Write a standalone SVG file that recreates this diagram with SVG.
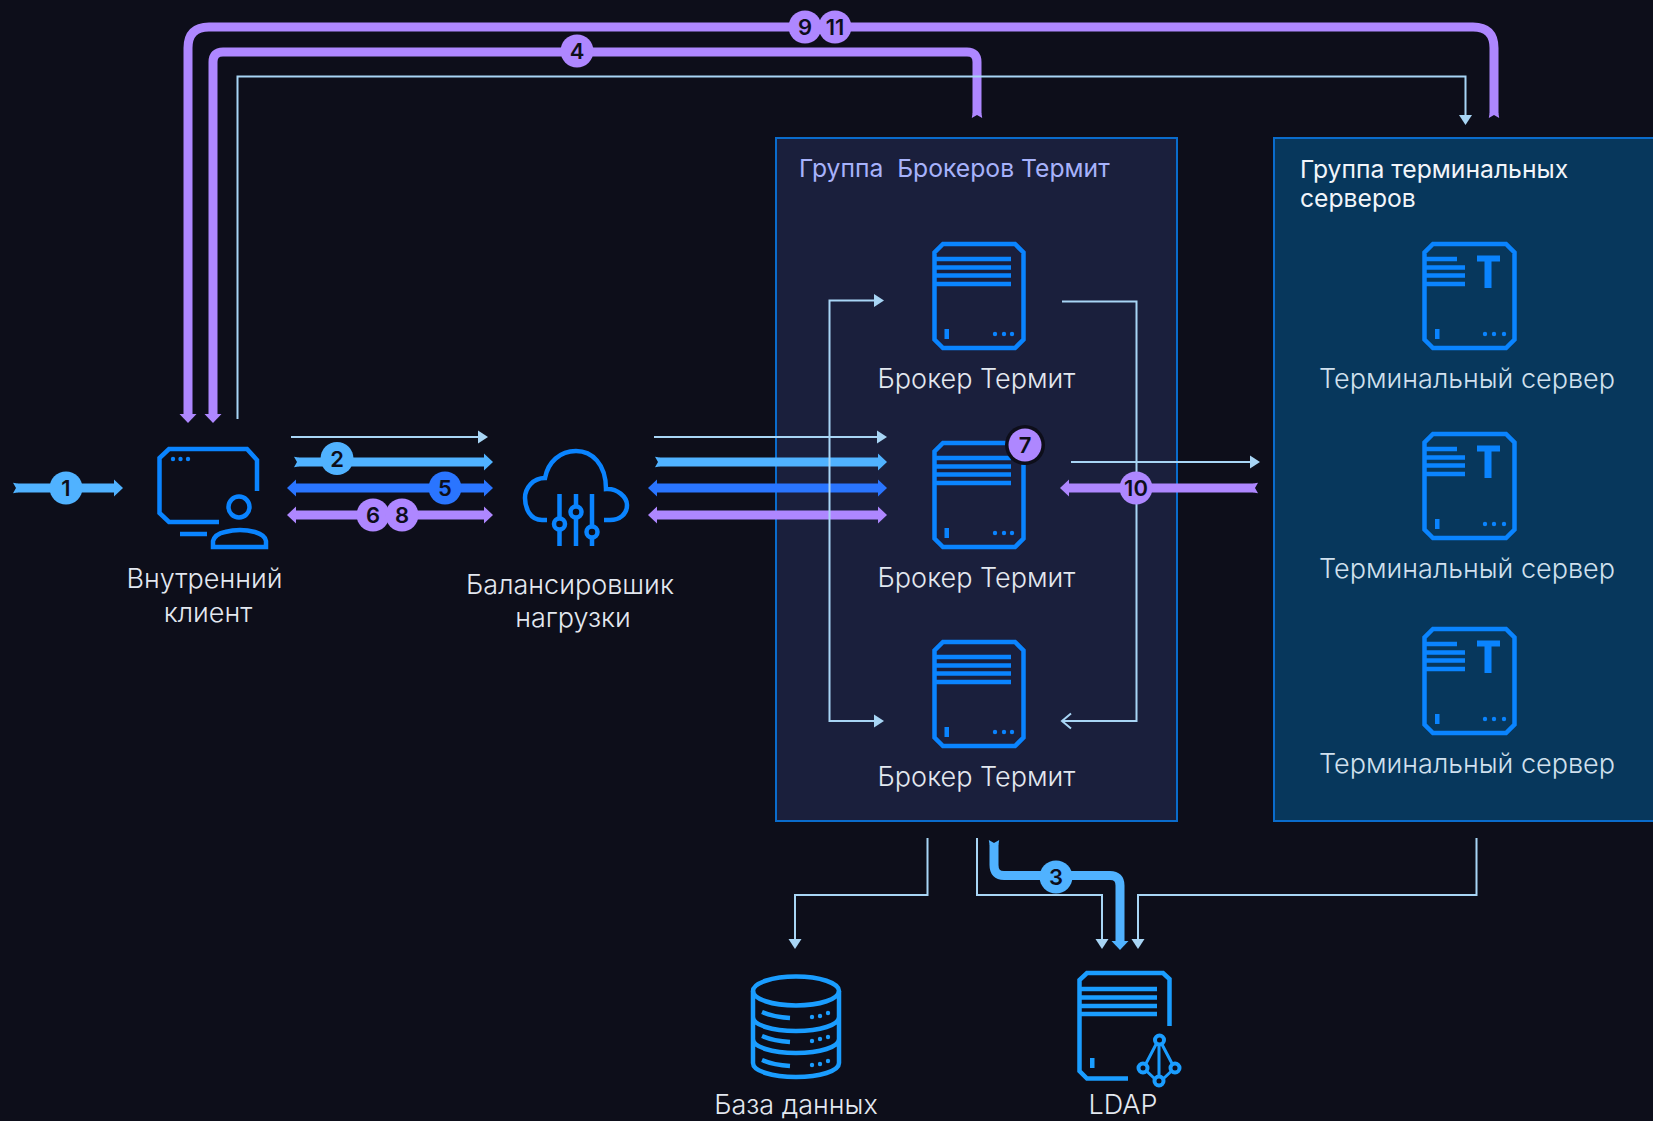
<svg xmlns="http://www.w3.org/2000/svg" width="1653" height="1121" viewBox="0 0 1653 1121">
<style>
text{font-family:"Inter","Liberation Sans",sans-serif;font-size:27px;font-weight:300;fill:#e3e8f0;text-anchor:middle}
.ts text{fill:#d0e0ee}
text.gt{text-anchor:start;font-size:24.700px;font-weight:400;white-space:pre}
.ic{fill:none;stroke:#0a84ff;stroke-width:4.500}
.icf{fill:#0a84ff}
.db{stroke:#1a9dff}
.dbf{fill:#1a9dff}
.c{fill:none}
.thin{stroke:#a8d5f5;stroke-width:2;marker-end:url(#ht)}
.p{stroke:#ae87ff;stroke-width:9}
.s{stroke:#50b2ff;stroke-width:9}
.b{stroke:#2a75ff;stroke-width:9}
.bd text{font-size:22px;font-weight:600;fill:#0d0e1a}
</style>
<defs>
<marker id="ht" markerUnits="userSpaceOnUse" viewBox="0 -8 12 16" refX="0" refY="0" markerWidth="12" markerHeight="16" orient="auto-start-reverse"><path d="M0,-6.500L10,0L0,6.500Z" fill="#a8d5f5"/></marker>
<marker id="open" markerUnits="userSpaceOnUse" viewBox="-10 -9 12 18" refX="0" refY="0" markerWidth="12" markerHeight="18" orient="auto"><path d="M-9,-7.500L0,0L-9,7.500" fill="none" stroke="#a8d5f5" stroke-width="2"/></marker>
<marker id="hp" markerUnits="userSpaceOnUse" viewBox="0 -10 12 20" refX="0" refY="0" markerWidth="12" markerHeight="20" orient="auto-start-reverse"><path d="M0,-8.500L9,0L0,8.500Z" fill="#ae87ff"/></marker>
<marker id="hs" markerUnits="userSpaceOnUse" viewBox="0 -10 12 20" refX="0" refY="0" markerWidth="12" markerHeight="20" orient="auto-start-reverse"><path d="M0,-8.500L9,0L0,8.500Z" fill="#50b2ff"/></marker>
<marker id="hb" markerUnits="userSpaceOnUse" viewBox="0 -10 12 20" refX="0" refY="0" markerWidth="12" markerHeight="20" orient="auto-start-reverse"><path d="M0,-8.500L9,0L0,8.500Z" fill="#2a75ff"/></marker>
<marker id="tp" markerUnits="userSpaceOnUse" viewBox="-5 -6 10 12" refX="0" refY="0" markerWidth="10" markerHeight="12" orient="auto"><path d="M-4,-5.200L0.500,-4.500L0.500,4.500L-4,5.200L-1,0Z" fill="#ae87ff"/></marker>
<marker id="ts" markerUnits="userSpaceOnUse" viewBox="-5 -6 10 12" refX="0" refY="0" markerWidth="10" markerHeight="12" orient="auto"><path d="M-4,-5.200L0.500,-4.500L0.500,4.500L-4,5.200L-1,0Z" fill="#50b2ff"/></marker>
<g id="srv">
<path class="ic" d="M943,244H1015L1023.500,252.500V339.500L1015,348H943L934.500,339.500V252.500Z"/>
<path class="ic" d="M935,259H1011M935,267.500H1011M935,275.500H1011M935,284H1011"/>
<rect class="icf" x="944.500" y="329" width="4.500" height="10"/>
<circle class="icf" cx="995" cy="334" r="2.200"/><circle class="icf" cx="1004" cy="334" r="2.200"/><circle class="icf" cx="1012" cy="334" r="2.200"/>
</g>
<g id="tsrv">
<path class="ic" d="M1433,244H1506L1514.500,252.500V339.500L1506,348H1433L1424.500,339.500V252.500Z"/>
<path class="ic" d="M1425,259H1457M1425,267.500H1465M1425,275.500H1465M1425,284H1465"/>
<path class="icf" d="M1477,255.500H1500V261.500H1491.500V288H1484.500V261.500H1477Z"/>
<rect class="icf" x="1435" y="329" width="4.500" height="10"/>
<circle class="icf" cx="1485" cy="334" r="2.200"/><circle class="icf" cx="1494" cy="334" r="2.200"/><circle class="icf" cx="1504" cy="334" r="2.200"/>
</g>
</defs>
<rect width="1653" height="1121" fill="#0d0e1a"/>

<g id="group-brokers">
<rect x="776" y="138" width="401" height="683" fill="#1a1f3c" stroke="#0a6ccc" stroke-width="2"/>
<text class="gt" x="799" y="177" style="fill:#a7b2fb">Группа  Брокеров Термит</text>
</g>
<g id="group-terminal">
<rect x="1274" y="138" width="400" height="683" fill="#07375c" stroke="#0a6ccc" stroke-width="2"/>
<text class="gt" x="1300" y="177.500" style="fill:#f2f5fa">Группа терминальных</text>
<text class="gt" x="1300" y="206.500" style="fill:#f2f5fa">серверов</text>
</g>

<g id="connectors" class="c">
<path class="p" d="M1494,114V48Q1494,27 1473,27H209Q188,27 188,48V414" marker-start="url(#tp)" marker-end="url(#hp)"/>
<path class="p" d="M977,114V62Q977,52 967,52H223Q213,52 213,62V414" marker-start="url(#tp)" marker-end="url(#hp)"/>
<path class="thin" d="M237.500,419V76.500H1465.500V115"/>
<path class="s" d="M17,488H114" marker-start="url(#ts)" marker-end="url(#hs)"/>
<path class="thin" d="M291,437H478"/>
<path class="s" d="M298,462H484" marker-start="url(#ts)" marker-end="url(#hs)"/>
<path class="b" d="M296,488H484" marker-start="url(#hb)" marker-end="url(#hb)"/>
<path class="p" d="M296,515H484" marker-start="url(#hp)" marker-end="url(#hp)"/>
<path class="thin" d="M654,437H877"/>
<path class="s" d="M659,462H878" marker-start="url(#ts)" marker-end="url(#hs)"/>
<path class="b" d="M657,488H878" marker-start="url(#hb)" marker-end="url(#hb)"/>
<path class="p" d="M657,515H878" marker-start="url(#hp)" marker-end="url(#hp)"/>
<path class="thin" d="M874,300.500H829.500V721H874" marker-start="url(#ht)"/>
<path d="M1062,301.500H1136.500V721H1062" stroke="#a8d5f5" stroke-width="2" marker-end="url(#open)"/>
<path class="thin" d="M1071,462H1250"/>
<path class="p" d="M1254,488H1069" marker-start="url(#tp)" marker-end="url(#hp)"/>
<path class="thin" d="M927.500,838V895H795V939"/>
<path class="thin" d="M977,838V895H1102V939"/>
<path class="thin" d="M1476.500,838V895H1138V939"/>
<path class="s" d="M994,844V865Q994,875.500 1004,875.500H1110Q1120,875.500 1120,885.500V941" marker-start="url(#ts)" marker-end="url(#hs)"/>
</g>

<g id="client">
<path class="ic" d="M257,491V460L247,449H169L159.500,458V513L169,522H219"/>
<circle class="icf" cx="173" cy="459" r="2.200"/><circle class="icf" cx="180.500" cy="459" r="2.200"/><circle class="icf" cx="188" cy="459" r="2.200"/>
<path class="ic" d="M180,534H207"/>
<circle class="ic" cx="239" cy="507" r="10.500"/>
<path class="ic" d="M213,547V541Q215,534 225,532Q240,528 255,532Q265,535 266,541V547Z"/>
<text x="204.500" y="587.500">Внутренний</text>
<text x="208" y="621.500">клиент</text>
</g>

<g id="balancer">
<path class="ic" d="M547,520H542C530,520 525,508 525,498C525,488 533,478 545,478C548,462 560,451 576,451C592,451 606,464 606,489C617,488 627,497 627,505C627,514 620,520 610,520H604"/>
<path class="ic" d="M559.500,494V517M559.500,531V546M576,494V505M576,519V546M592,494V525M592,539V546"/>
<circle class="ic" cx="559.500" cy="524" r="5.500"/><circle class="ic" cx="576" cy="512" r="5.500"/><circle class="ic" cx="592" cy="532" r="5.500"/>
<text x="570" y="594">Балансировшик</text>
<text x="573" y="627">нагрузки</text>
</g>

<g id="broker-1"><use href="#srv"/><text x="976.500" y="388">Брокер Термит</text></g>
<g id="broker-2"><use href="#srv" y="199"/><text x="976.500" y="587">Брокер Термит</text></g>
<g id="broker-3"><use href="#srv" y="398"/><text x="976.500" y="786">Брокер Термит</text></g>

<g id="terminal-1" class="ts"><use href="#tsrv"/><text x="1467" y="388">Терминальный сервер</text></g>
<g id="terminal-2" class="ts"><use href="#tsrv" y="190"/><text x="1467" y="578">Терминальный сервер</text></g>
<g id="terminal-3" class="ts"><use href="#tsrv" y="385"/><text x="1467" y="773">Терминальный сервер</text></g>

<g id="database">
<ellipse class="ic db" cx="796" cy="991" rx="43" ry="14.500"/>
<path class="ic db" d="M753,991V1063C753,1071 772,1077 796,1077C820,1077 839,1071 839,1063V991M753,1017C753,1025 772,1031 796,1031C820,1031 839,1025 839,1017M753,1039C753,1047 772,1053 796,1053C820,1053 839,1047 839,1039"/>
<path class="ic db" d="M762,1012Q774,1017 790,1018M762,1036Q774,1041 790,1042M762,1060Q774,1065 790,1066"/>
<g class="dbf"><circle cx="812" cy="1017" r="2.200"/><circle cx="820" cy="1016" r="2.200"/><circle cx="828" cy="1013" r="2.200"/>
<circle cx="812" cy="1041" r="2.200"/><circle cx="820" cy="1039" r="2.200"/><circle cx="828" cy="1037" r="2.200"/>
<circle cx="812" cy="1065" r="2.200"/><circle cx="820" cy="1064" r="2.200"/><circle cx="828" cy="1061" r="2.200"/></g>
<text x="796" y="1113.500">База данных</text>
</g>

<g id="ldap">
<path class="ic db" d="M1128,1078.500H1087L1079.500,1071V980L1087,973H1163L1169.500,979V1026"/>
<path class="ic db" d="M1079,989H1157M1079,997.500H1157M1079,1006H1157M1079,1014H1157"/>
<rect class="dbf" x="1090" y="1058" width="4.500" height="10"/>
<path class="ic db" style="stroke-width:3" d="M1156.500,1043.500L1146,1063.500M1161.500,1043.500L1172,1063.500M1159,1044V1077M1147,1071.500L1155,1079M1171,1071.500L1163,1079"/>
<circle class="ic db" style="stroke-width:4" cx="1159.500" cy="1040" r="4.500"/><circle class="ic db" style="stroke-width:4" cx="1143" cy="1068" r="4.500"/><circle class="ic db" style="stroke-width:4" cx="1175" cy="1068" r="4.500"/><circle class="ic db" style="stroke-width:4" cx="1159" cy="1081" r="4.500"/>
<text x="1123" y="1113.500">LDAP</text>
</g>

<g id="badges" class="bd">
<circle cx="1025" cy="445" r="20" fill="#0d0e1a"/>
<circle cx="66" cy="488" r="16.500" fill="#50b2ff"/><text x="66" y="496">1</text>
<circle cx="337" cy="458.500" r="16.500" fill="#50b2ff"/><text x="337" y="466.500">2</text>
<circle cx="445" cy="488" r="16.500" fill="#2a75ff"/><text x="445" y="496">5</text>
<circle cx="373" cy="515" r="16.500" fill="#ae87ff"/><circle cx="402" cy="515" r="16.500" fill="#ae87ff"/><text x="373" y="523">6</text><text x="402" y="523">8</text>
<circle cx="577" cy="51" r="16.500" fill="#ae87ff"/><text x="577" y="59">4</text>
<circle cx="805" cy="27" r="16.500" fill="#ae87ff"/><circle cx="835" cy="27" r="16.500" fill="#ae87ff"/><text x="805" y="35">9</text><text x="835" y="35">11</text>
<circle cx="1025" cy="445" r="16.500" fill="#ae87ff"/><text x="1025" y="453">7</text>
<circle cx="1136" cy="488" r="16.500" fill="#ae87ff"/><text x="1136" y="496">10</text>
<circle cx="1056" cy="877" r="16.500" fill="#50b2ff"/><text x="1056" y="885">3</text>
</g>
</svg>
